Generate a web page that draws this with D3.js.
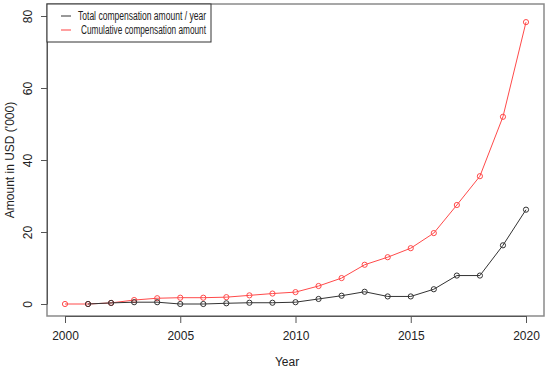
<!DOCTYPE html>
<html>
<head>
<meta charset="utf-8">
<script src="https://cdn.jsdelivr.net/npm/d3@7"></script>
<style>
  body { margin: 0; background: #fff; }
  text { font-family: "Liberation Sans Narrow", "Liberation Sans", Arial, sans-serif; fill: #222; }
</style>
</head>
<body>
<div id="chart"></div>
<script>
// data (thousand USD)
const years = d3.range(2000, 2021);
const cumulative = [0, 0, 0.3, 1.1, 1.6, 1.75, 1.75, 1.9, 2.4, 2.9, 3.3, 5.0, 7.2, 10.9, 13.0, 15.5, 19.7, 27.5, 35.5, 52.0, 78.3];
const perYearYears = d3.range(2001, 2021);
const perYear = [0, 0.3, 0.5, 0.5, 0, 0, 0.2, 0.35, 0.35, 0.5, 1.4, 2.3, 3.4, 2.1, 2.1, 4.1, 7.9, 7.9, 16.3, 26.2];
const xTicks = [2000, 2005, 2010, 2015, 2020];
const yTicks = [0, 20, 40, 60, 80];
const legendLabels = ["Total compensation amount / year", "Cumulative compensation amount"];

const width = 550, height = 371;
const box = { left: 47, top: 4, right: 544, bottom: 316 };

const svg = d3.select("#chart")
  .append("svg")
  .attr("width", width)
  .attr("height", height);

const x = d3.scaleLinear().domain([2000, 2020]).range([65, 526]);
const y = d3.scaleLinear().domain([0, 80]).range([304, 16]);

// plot frame
svg.append("rect")
  .attr("x", box.left).attr("y", box.top)
  .attr("width", box.right - box.left).attr("height", box.bottom - box.top)
  .attr("fill", "none").attr("stroke", "#8a8a8a").attr("stroke-width", 1.5);

// x axis
const xAxis = svg.append("g")
  .attr("transform", `translate(0,${box.bottom})`)
  .call(d3.axisBottom(x).tickValues(xTicks).tickFormat(d3.format("d")).tickSize(7).tickSizeOuter(0).tickPadding(8));
xAxis.select(".domain").attr("stroke", "#555");
xAxis.selectAll(".tick line").attr("stroke", "#555");
xAxis.selectAll("text").attr("font-size", 12).attr("fill", "#222");

// y axis
const yAxis = svg.append("g")
  .attr("transform", `translate(${box.left},0)`)
  .call(d3.axisLeft(y).tickValues(yTicks).tickSize(6).tickSizeOuter(0).tickFormat(d3.format("d")));
yAxis.select(".domain").attr("stroke", "#555");
yAxis.selectAll(".tick line").attr("stroke", "#555");
yAxis.selectAll("text")
  .attr("font-size", 12).attr("fill", "#222")
  .attr("x", 0).attr("dy", null)
  .attr("text-anchor", "middle")
  .attr("transform", "translate(-15,0) rotate(-90)");

// axis titles
svg.append("text")
  .attr("x", 287).attr("y", 366)
  .attr("text-anchor", "middle").attr("font-size", 12)
  .text("Year");
svg.append("text")
  .attr("transform", `translate(14,${(box.top + box.bottom) / 2}) rotate(-90)`)
  .attr("text-anchor", "middle").attr("font-size", 12)
  .text("Amount in USD ('000)");

const line = d3.line().x(d => x(d[0])).y(d => y(d[1]));

const series = [
  { name: "cum", color: "#ff4a4a", data: years.map((yr, i) => [yr, cumulative[i]]) },
  { name: "year", color: "#333", data: perYearYears.map((yr, i) => [yr, perYear[i]]) }
];

series.forEach(s => {
  svg.append("path")
    .datum(s.data)
    .attr("fill", "none")
    .attr("stroke", s.color)
    .attr("stroke-width", 1)
    .attr("d", line);
  svg.append("g")
    .selectAll("circle")
    .data(s.data)
    .join("circle")
    .attr("cx", d => x(d[0]))
    .attr("cy", d => y(d[1]))
    .attr("r", 2.6)
    .attr("fill", "none")
    .attr("stroke", s.color)
    .attr("stroke-width", 1);
});

// legend
const legend = svg.append("g");
legend.append("rect")
  .attr("x", box.left).attr("y", box.top)
  .attr("width", 164).attr("height", 38)
  .attr("fill", "#fff").attr("stroke", "#333").attr("stroke-width", 1);
const legendColors = ["#333", "#ff8080"];
const legendX = [78, 81];
legendLabels.forEach((lab, i) => {
  const ly = 16 + i * 14;
  legend.append("line")
    .attr("x1", 61).attr("x2", 71).attr("y1", ly).attr("y2", ly)
    .attr("stroke", legendColors[i]).attr("stroke-width", i ? 1.5 : 1);
  legend.append("text")
    .attr("x", legendX[i]).attr("y", ly + 4)
    .attr("font-size", 12)
    .attr("textLength", 206 - legendX[i])
    .attr("lengthAdjust", "spacingAndGlyphs")
    .text(lab);
});
</script>
</body>
</html>
